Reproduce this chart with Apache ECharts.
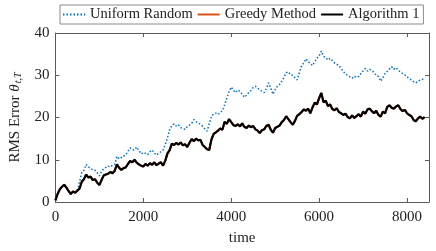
<!DOCTYPE html>
<html>
<head>
<meta charset="utf-8">
<script src="https://cdn.jsdelivr.net/npm/echarts@6/dist/echarts.min.js"></script>
<style>html,body{margin:0;padding:0;background:#fff}#c{width:436px;height:251px}</style>
</head>
<body>
<div id="c"></div>
<script>
const time = [0,50,100,150,200,250,300,350,400,450,500,550,600,650,700,750,800,850,900,950,
1000,1050,1100,1150,1200,1250,1300,1350,1400,1450,1500,1550,1600,1650,1700,1750,1800,1850,1900,1950,
2000,2050,2100,2150,2200,2250,2300,2350,2400,2450,2500,2550,2600,2650,2700,2750,2800,2850,2900,2950,
3000,3050,3100,3150,3200,3250,3300,3350,3400,3450,3500,3550,3600,3650,3700,3750,3800,3850,3900,3950,
4000,4050,4100,4150,4200,4250,4300,4350,4400,4450,4500,4550,4600,4650,4700,4750,4800,4850,4900,4950,
5000,5050,5100,5150,5200,5250,5300,5350,5400,5450,5500,5550,5600,5650,5700,5750,5800,5850,5900,5950,
6000,6050,6100,6150,6200,6250,6300,6350,6400,6450,6500,6550,6600,6650,6700,6750,6800,6850,6900,6950,
7000,7050,7100,7150,7200,7250,7300,7350,7400,7450,7500,7550,7600,7650,7700,7750,7800,7850,7900,7950,
8000,8050,8100,8150,8200,8250,8300,8350,8400];

const uniformRandom = [0.4,1.9,3.0,3.6,4.1,3.4,2.6,1.9,2.5,2.2,2.7,4.8,7.0,7.5,8.9,8.3,8.0,7.6,7.5,6.9,
6.2,7.2,7.9,8.2,8.5,8.3,8.7,8.9,10.8,10.2,10.5,10.9,11.1,12.0,12.8,12.4,12.3,13.0,12.2,11.4,
11.7,11.5,11.2,11.9,12.3,11.6,11.1,11.5,11.9,12.3,13.6,15.2,17.2,18.1,18.5,18.0,18.3,17.6,17.4,17.2,
17.8,18.2,18.6,19.5,19.0,18.7,18.4,17.9,17.3,16.8,18.5,20.3,20.8,21.0,20.7,21.2,21.6,23.0,24.6,26.1,
27.2,26.4,25.9,26.5,26.2,25.5,24.8,25.3,25.9,26.4,27.1,27.4,26.9,26.6,26.2,25.9,26.8,28.2,26.9,25.5,
26.6,27.4,27.8,28.6,29.5,30.6,30.8,30.1,30.0,29.4,28.9,30.6,32.3,32.9,33.9,33.2,32.8,32.3,33.2,34.0,
34.6,35.7,34.5,34.2,33.6,34.0,33.5,32.9,32.6,32.3,31.6,30.9,30.3,30.0,29.6,29.3,29.8,29.5,29.7,30.4,
31.0,31.6,31.0,31.4,31.2,30.6,30.0,29.7,28.6,29.3,30.5,30.9,31.5,32.0,31.4,31.8,31.2,30.7,30.4,30.1,
29.6,29.2,28.9,28.5,28.2,28.6,28.9,29.0,29.3];

const algorithm1 = [0.4,1.9,3.0,3.6,4.1,3.4,2.6,1.9,2.5,2.2,2.7,3.2,4.8,5.4,6.5,5.8,6.0,5.2,5.4,4.6,
4.0,5.2,6.3,6.5,6.7,7.1,6.8,7.4,8.9,8.1,7.6,8.0,8.2,9.0,9.7,9.4,10.0,9.3,8.9,8.6,
8.4,9.0,8.6,9.2,8.8,9.4,8.7,9.1,9.4,8.6,9.8,11.5,12.3,13.8,13.5,14.0,13.6,14.1,13.4,13.7,
13.0,14.0,14.9,14.4,15.0,14.6,14.7,13.5,13.0,12.5,12.3,14.8,16.1,16.5,16.9,17.4,17.1,19.0,18.5,19.6,
18.9,18.2,18.0,18.4,17.9,18.6,17.8,17.5,18.1,17.7,18.0,17.2,16.9,16.3,17.0,17.2,18.0,18.3,17.1,16.4,
17.5,17.8,18.1,18.9,19.4,20.3,19.6,18.9,18.3,19.2,20.4,20.8,21.3,21.9,21.6,22.1,21.0,22.4,23.5,23.1,
24.6,25.8,23.6,24.0,22.7,23.1,22.0,21.7,22.2,21.3,21.0,20.6,20.9,20.1,19.8,20.5,19.9,20.3,20.8,20.2,
21.4,20.9,21.9,22.1,21.5,21.0,21.6,20.6,20.2,21.4,21.0,22.5,22.9,22.3,22.1,22.6,22.9,22.0,21.5,21.8,
21.0,20.6,20.3,19.4,19.1,19.8,20.2,19.7,20.1];

// Greedy Method coincides with Algorithm 1 in the reference (hidden underneath)
const greedyMethod = algorithm1.slice();

const xTicks = [0, 2000, 4000, 6000, 8000];
const yTicks = [0, 10, 20, 30, 40];

const FONT = 'Liberation Serif';
const AX = '#5a5a5a';
const TXT = '#222';
const pair = arr => arr.map((v, i) => [time[i], v]);

const chart = echarts.init(document.getElementById('c'), null, {renderer: 'canvas'});
const baseX = {
  type: 'value', min: 0, max: 8500, gridIndex: 0,
  axisLine: {show: true, onZero: false, lineStyle: {color: AX, width: 1}},
  axisTick: {show: true, inside: true, length: 4, customValues: xTicks, lineStyle: {color: AX}},
  splitLine: {show: false}
};
const baseY = {
  type: 'value', min: 0, max: 40, interval: 10,
  axisLine: {show: true, onZero: false, lineStyle: {color: AX, width: 1}},
  axisTick: {show: true, inside: true, length: 4, lineStyle: {color: AX}},
  splitLine: {show: false}
};
chart.setOption({
  animation: false,
  backgroundColor: '#fff',
  textStyle: {fontFamily: FONT},
  grid: {left: 47, right: 7, top: 33, bottom: 42},
  legend: {
    orient: 'horizontal',
    left: 60, top: 5, width: 430,
    padding: [2, 4, 2, 2],
    itemWidth: 22, itemHeight: 10, itemGap: 4,
    borderColor: '#8a8a8a', borderWidth: 1,
    itemStyle: {opacity: 0},
    textStyle: {fontFamily: FONT, fontSize: 14.5, color: TXT},
    data: ['Uniform Random', 'Greedy Method', 'Algorithm 1']
  },
  xAxis: [
    Object.assign({}, baseX, {
      position: 'bottom',
      name: 'time', nameLocation: 'middle', nameGap: 29,
      nameTextStyle: {fontFamily: FONT, fontSize: 15, color: TXT},
      axisLabel: {customValues: xTicks, formatter: v => String(v), fontFamily: FONT, fontSize: 15, color: TXT, margin: 8}
    }),
    Object.assign({}, baseX, {position: 'top', axisLabel: {show: false}})
  ],
  yAxis: [
    Object.assign({}, baseY, {
      position: 'left',
      name: '{n|RMS Error }{t|θ}{s|t,T}', nameLocation: 'middle', nameGap: 26, nameRotate: 90,
      nameTextStyle: {
        fontFamily: FONT, fontSize: 15, color: TXT,
        rich: {
          n: {fontFamily: FONT, fontSize: 15, color: TXT},
          t: {fontFamily: FONT, fontSize: 15, fontStyle: 'italic', color: TXT},
          s: {fontFamily: FONT, fontSize: 10, fontStyle: 'italic', color: TXT, verticalAlign: 'bottom', padding: [6, 0, 0, 1]}
        }
      },
      axisLabel: {fontFamily: FONT, fontSize: 15, color: TXT, margin: 6}
    }),
    Object.assign({}, baseY, {position: 'right', axisLabel: {show: false}})
  ],
  series: [
    {
      name: 'Uniform Random', type: 'line', data: pair(uniformRandom),
      showSymbol: false, symbol: 'none', z: 2,
      lineStyle: {color: '#0072BD', width: 1.5, type: [1.5, 2]}, itemStyle: {color: '#0072BD'}
    },
    {
      name: 'Greedy Method', type: 'line', data: pair(greedyMethod),
      showSymbol: false, symbol: 'none', z: 3,
      lineStyle: {color: '#D95319', width: 2}, itemStyle: {color: '#D95319'}
    },
    {
      name: 'Algorithm 1', type: 'line', data: pair(algorithm1),
      showSymbol: false, symbol: 'none', z: 4,
      lineStyle: {color: '#000', width: 2.2}, itemStyle: {color: '#000'}
    }
  ]
});
</script>
</body>
</html>
